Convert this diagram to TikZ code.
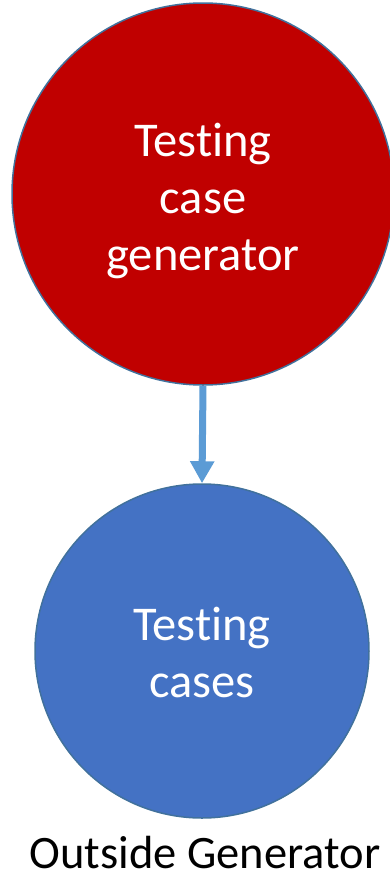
\documentclass[tikz,border=0pt]{standalone}
\usepackage{fontspec}
\setmainfont{Carlito}[Ligatures=NoCommon]
\usetikzlibrary{arrows.meta}

\definecolor{genred}{HTML}{C00000}
\definecolor{caseblue}{HTML}{4472C4}
\definecolor{rimblue}{HTML}{41719C}
\definecolor{flowblue}{HTML}{5B9BD5}

\tikzset{
  bubble/.style={circle, draw=rimblue, line width=1.5pt, inner sep=0pt},
  bubbletext/.style={text=white, align=center, inner sep=0pt,
    font=\fontsize{48.5}{57}\selectfont},
  flow/.style={draw=flowblue, line width=7pt,
    -{Triangle[length=22pt,width=23pt]}}
}

\begin{document}
\begin{tikzpicture}[x=1pt,y=-1pt]
      \useasboundingbox (0,0) rectangle (390,879);

      \node[bubble, fill=genred, minimum size=382pt] (generator) at (203,194) {};
      \node[bubbletext] (generatortext) at (203,201) {Testing\\case\\generator};
      \node[bubble, fill=caseblue, minimum size=334pt] (cases) at (202,651) {};
      \node[bubbletext] (casestext) at (202,652) {Testing\\cases};

      \draw[flow] (generator.south) -- (cases.north);

      \node[anchor=base, inner sep=0pt, font=\fontsize{46.5}{56}\selectfont] (outside) at (205,868) {Outside Generator};
    \end{tikzpicture}
\end{document}
